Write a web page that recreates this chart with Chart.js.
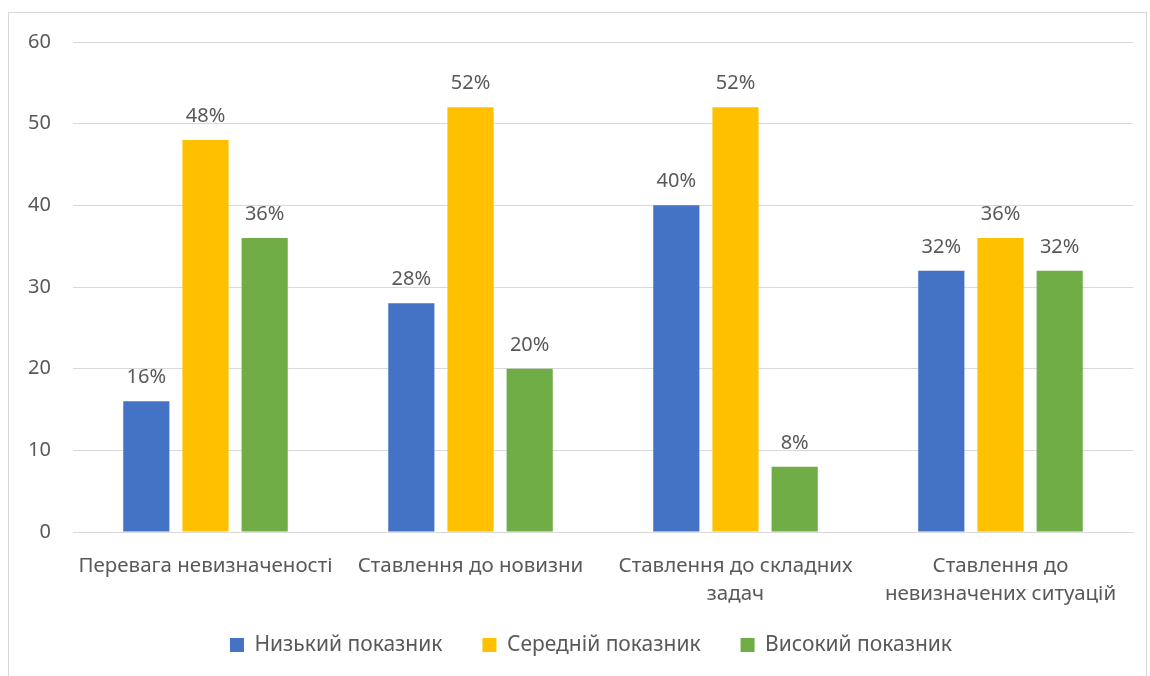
<!DOCTYPE html>
<html>
<head>
<meta charset="utf-8">
<script src="https://cdn.jsdelivr.net/npm/chart.js@4"></script>
<style>
  html, body { margin: 0; padding: 0; background: #fff; overflow: hidden; }
  #box { position: absolute; left: 8px; top: 12px; width: 1137px; height: 680px; border: 1px solid #d9d9d9; }
  #wrap { position: absolute; left: 0; top: 0; width: 1137px; height: 663px; }
</style>
</head>
<body>
<div id="box"><div id="wrap"><canvas id="chart"></canvas></div></div>
<script>
// categories (multi-line ones split into rows)
const categories = [
  "Перевага невизначеності",
  "Ставлення до новизни",
  ["Ставлення до складних", "задач"],
  ["Ставлення до", "невизначених ситуацій"]
];
const seriesNames = ["Низький показник", "Середній показник", "Високий показник"];
const lowVals  = [16, 28, 40, 32];
const midVals  = [48, 52, 52, 36];
const highVals = [36, 20, 8, 32];
const colors = ["#4472C4", "#FFC000", "#70AD47"];

const FONT = "'Noto Sans', sans-serif";
const TXT = "#595959";
const LEG_PAD = 40;
const LEG_FONT = 21;

// draws "NN%" above each bar
const barLabels = {
  id: "barLabels",
  afterDatasetsDraw(chart) {
    const ctx = chart.ctx;
    ctx.save();
    ctx.font = "20px " + FONT;
    ctx.fillStyle = TXT;
    ctx.textAlign = "center";
    ctx.textBaseline = "alphabetic";
    chart.data.datasets.forEach((ds, i) => {
      chart.getDatasetMeta(i).data.forEach((bar, j) => {
        ctx.fillText(ds.data[j] + "%", bar.x, bar.y - 18);
      });
    });
    ctx.restore();
  }
};

// short legend block placed near the bottom edge
const legendSpot = {
  id: "legendSpot",
  beforeInit(chart) {
    const lg = chart.legend;
    const fit = lg.fit.bind(lg);
    lg.fit = function () { fit(); this.height = 69; };
  },
  afterLayout(chart) {
    const lg = chart.legend;
    lg.top = 632 - LEG_PAD - LEG_FONT / 2;
    lg.bottom = chart.height;
    lg.left += 20;
    lg.right += 20;
  }
};

new Chart(document.getElementById("chart"), {
  type: "bar",
  data: {
    labels: categories,
    datasets: [
      { label: seriesNames[0], data: lowVals,  backgroundColor: colors[0] },
      { label: seriesNames[1], data: midVals,  backgroundColor: colors[1] },
      { label: seriesNames[2], data: highVals, backgroundColor: colors[2] }
    ]
  },
  options: {
    responsive: true,
    maintainAspectRatio: false,
    animation: false,
    categoryPercentage: 0.67,
    barPercentage: 0.78,
    layout: { padding: { top: 29, right: 13, bottom: 0, left: 0 } },
    plugins: {
      legend: {
        position: "bottom",
        labels: {
          color: TXT,
          font: { family: FONT, size: LEG_FONT },
          boxWidth: 14,
          boxHeight: 14,
          padding: LEG_PAD
        }
      },
      tooltip: { enabled: false }
    },
    scales: {
      x: {
        grid: { display: false },
        border: { color: "#d9d9d9" },
        ticks: { color: TXT, font: { family: FONT, size: 20.5, lineHeight: 1.37 }, padding: 12, maxRotation: 0, autoSkip: false },
        afterFit(s) { s.height = 75; }
      },
      y: {
        min: 0, max: 60,
        grid: { color: "#d9d9d9", drawTicks: false },
        border: { display: false },
        ticks: { stepSize: 10, color: TXT, font: { family: FONT, size: 20 }, padding: 22 },
        afterFit(s) { s.width = 64; s.paddingTop = 0; }
      }
    }
  },
  plugins: [barLabels, legendSpot]
});
</script>
</body>
</html>
